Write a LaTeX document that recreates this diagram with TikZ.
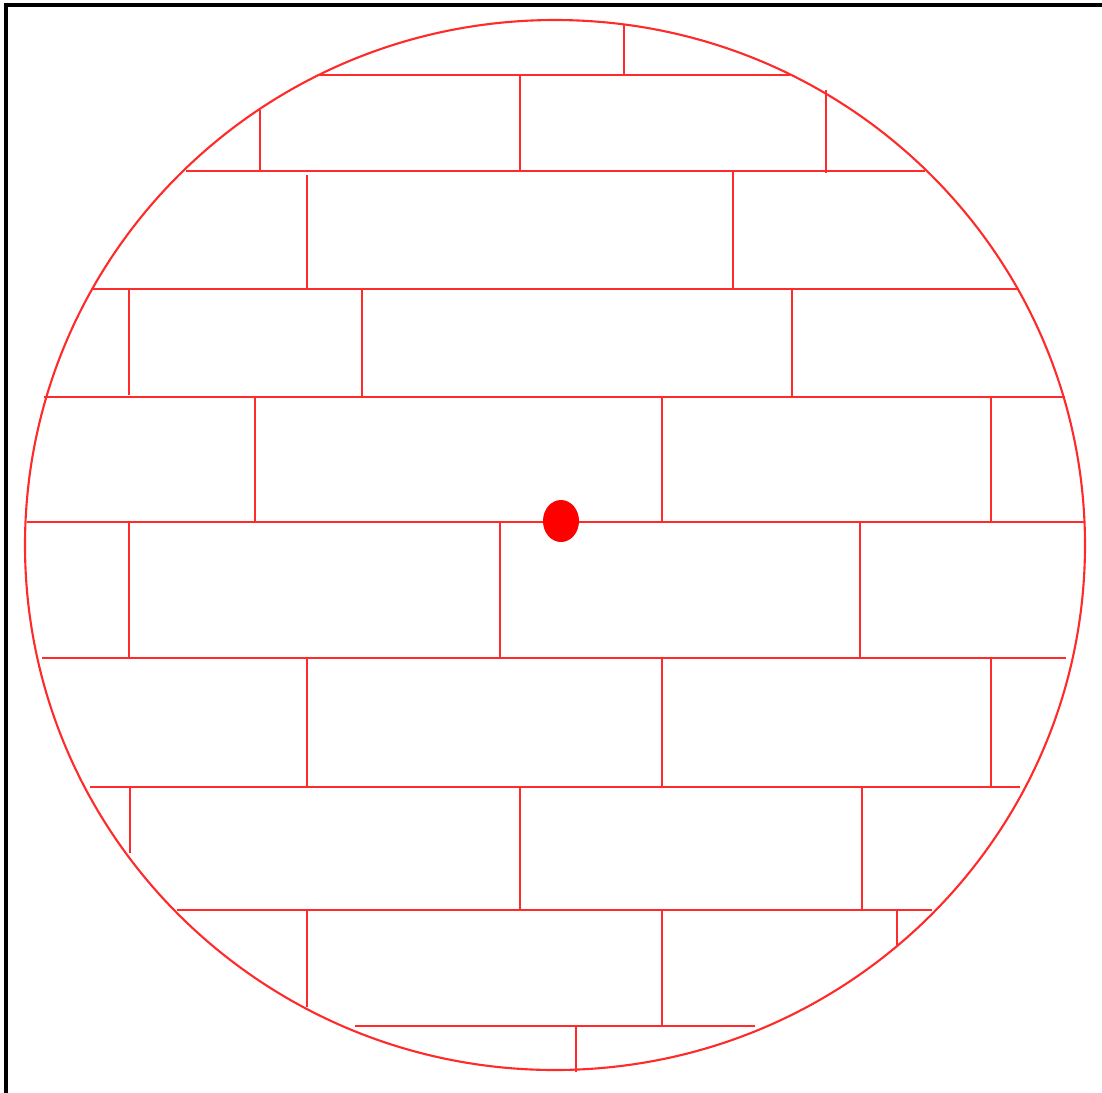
\documentclass[tikz,border=0pt]{standalone}
\usepackage{tikz}
\usetikzlibrary{positioning, shapes.geometric}
\definecolor{brickred}{HTML}{FF2A2A}

\begin{document}
\begin{tikzpicture}[
    x=0.01cm, y=-0.01cm,
    frame/.style={line width=1.1pt, black},
    rim/.style={line width=0.6pt, brickred},
    joint/.style={line width=0.55pt, brickred},
    marker/.style={ellipse, fill=red, inner sep=0pt,
                   minimum width=0.36cm, minimum height=0.42cm}
  ]
    \useasboundingbox (0,0) rectangle (1102,1093);
    % frame on the left and top
    \draw[frame] (6,1093) -- (6,5) -- (1102,5);
    % outline of the well
    \draw[rim] (555,545) ellipse [x radius=530, y radius=525];
    % bed joints: y / from / to
    \foreach \y/\a/\b in {75/318/790, 171/186/925, 289/92/1018,
        397/44/1065, 522/27/1085, 658/42/1066, 787/90/1020,
        910/177/932, 1026/355/755}
      \draw[joint] (\a,\y) -- (\b,\y);
    % head joints: x / top / bottom
    \foreach \x/\t/\u in {624/25/75,
        260/110/171, 520/75/171, 826/90/173,
        307/175/289, 733/171/289,
        129/289/395, 362/289/397, 792/289/397,
        255/397/522, 662/397/522, 991/397/522,
        129/522/658, 500/522/658, 860/522/658,
        307/658/787, 662/658/787, 991/658/787,
        130/787/853, 520/787/910, 862/787/910,
        307/910/1007, 662/910/1026, 897/910/945,
        576/1026/1072}
      \draw[joint] (\x,\t) -- (\x,\u);
    \node[marker] (dot) at (561,521) {};
  \end{tikzpicture}
\end{document}
